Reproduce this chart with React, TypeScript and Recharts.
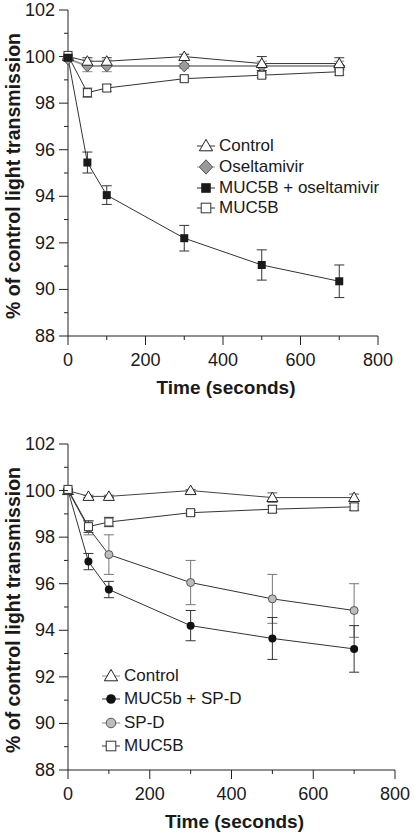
import React from 'react'
import { LineChart, Line, XAxis, YAxis, ErrorBar } from 'recharts'

const FONT = '"Liberation Sans", Arial, Helvetica, sans-serif'

// time points (seconds)
const TIME = [0, 50, 100, 300, 500, 700]

// top panel
const CONTROL_A = [100, 99.8, 99.8, 100, 99.7, 99.7]
const CONTROL_A_ERR = [0.1, 0.15, 0.15, 0.1, 0.3, 0.25]
const OSEL = [99.9, 99.6, 99.6, 99.6, 99.6, 99.6]
const OSEL_ERR = [0.1, 0.25, 0.25, 0.1, 0.2, 0.2]
const MUC_OSEL = [99.95, 95.45, 94.05, 92.2, 91.05, 90.35]
const MUC_OSEL_ERR = [0.1, 0.45, 0.4, 0.55, 0.65, 0.7]
const MUC_A = [100.05, 98.45, 98.65, 99.05, 99.2, 99.35]
const MUC_A_ERR = [0.05, 0.2, 0.15, 0.1, 0.1, 0.15]

// bottom panel
const CONTROL_B = [100, 99.75, 99.75, 100, 99.7, 99.7]
const CONTROL_B_ERR = [0.05, 0.05, 0.05, 0.05, 0.2, 0.15]
const MUC_SPD = [100, 96.95, 95.75, 94.2, 93.65, 93.2]
const MUC_SPD_ERR = [0.05, 0.35, 0.35, 0.65, 0.9, 1.0]
const SPD = [100, 98.4, 97.25, 96.05, 95.35, 94.85]
const SPD_ERR = [0.05, 0.3, 0.85, 0.95, 1.05, 1.15]
const MUC_B = [100.05, 98.45, 98.65, 99.05, 99.2, 99.3]
const MUC_B_ERR = [0.05, 0.25, 0.2, 0.1, 0.15, 0.15]

const X_TICKS = [0, 100, 200, 300, 400, 500, 600, 700, 800]
const Y_TICKS = [88, 89, 90, 91, 92, 93, 94, 95, 96, 97, 98, 99, 100, 101, 102]

const topData = TIME.map((t, i) => ({
  t,
  control: CONTROL_A[i],
  controlErr: CONTROL_A_ERR[i],
  osel: OSEL[i],
  oselErr: OSEL_ERR[i],
  mucOsel: MUC_OSEL[i],
  mucOselErr: MUC_OSEL_ERR[i],
  muc: MUC_A[i],
  mucErr: MUC_A_ERR[i],
}))

const bottomData = TIME.map((t, i) => ({
  t,
  control: CONTROL_B[i],
  controlErr: CONTROL_B_ERR[i],
  mucSpd: MUC_SPD[i],
  mucSpdErr: MUC_SPD_ERR[i],
  spd: SPD[i],
  spdErr: SPD_ERR[i],
  muc: MUC_B[i],
  mucErr: MUC_B_ERR[i],
}))

type Shape = 'triangle' | 'diamond' | 'squareFilled' | 'squareOpen' | 'circleFilled' | 'circleGray'

function Marker({ shape, cx, cy, s = 1 }: { shape: Shape; cx: number; cy: number; s?: number }) {
  switch (shape) {
    case 'triangle':
      return (
        <path
          d={`M${cx},${cy - 5.5 * s} L${cx + 5.5 * s},${cy + 4 * s} L${cx - 5.5 * s},${cy + 4 * s} Z`}
          fill="#fff"
          stroke="#222"
          strokeWidth={1}
        />
      )
    case 'diamond':
      return (
        <path
          d={`M${cx},${cy - 6 * s} L${cx + 5.5 * s},${cy} L${cx},${cy + 6 * s} L${cx - 5.5 * s},${cy} Z`}
          fill="#9a9a9a"
          stroke="#555"
          strokeWidth={1}
        />
      )
    case 'squareFilled':
      return <rect x={cx - 4 * s} y={cy - 4 * s} width={8 * s} height={8 * s} fill="#1a1a1a" />
    case 'squareOpen':
      return (
        <rect x={cx - 4 * s} y={cy - 4 * s} width={8 * s} height={8 * s} fill="#fff" stroke="#333" strokeWidth={1} />
      )
    case 'circleFilled':
      return <circle cx={cx} cy={cy} r={4 * s} fill="#111" />
    case 'circleGray':
      return <circle cx={cx} cy={cy} r={4 * s} fill="#bdbdbd" stroke="#555" strokeWidth={1} />
  }
}

const dotOf = (shape: Shape) => (props: any) => (
  <Marker key={`${shape}-${props.index}`} shape={shape} cx={props.cx} cy={props.cy} />
)

function XTick({ x, y, payload }: any) {
  const major = payload.value % 200 === 0
  return (
    <g>
      <line x1={x} x2={x} y1={y} y2={y + (major ? 9 : 4)} stroke="#222" />
      {major && (
        <text x={x} y={y + 30} textAnchor="middle" fontSize={18} fontFamily={FONT} fill="#1a1a1a">
          {payload.value}
        </text>
      )}
    </g>
  )
}

function YTick({ x, y, payload }: any) {
  const major = payload.value % 2 === 0
  return (
    <g>
      <line x1={x} x2={x - (major ? 9 : 4)} y1={y} y2={y} stroke="#222" />
      {major && (
        <text x={x - 13} y={y + 6} textAnchor="end" fontSize={18} fontFamily={FONT} fill="#1a1a1a">
          {payload.value}
        </text>
      )}
    </g>
  )
}

const yLabel = (props: any) => {
  const vb = props.viewBox ?? { x: 0, y: 0, height: 0 }
  const cx = vb.x + 12.5
  const cy = vb.y + vb.height / 2 + 3
  return (
    <text
      x={cx}
      y={cy}
      transform={`rotate(-90, ${cx}, ${cy})`}
      textAnchor="middle"
      dominantBaseline="central"
      fontSize={19.5}
      fontWeight="bold"
      fontFamily={FONT}
      fill="#1a1a1a"
    >
      % of control light transmission
    </text>
  )
}

const xLabel = (props: any) => {
  const vb = props.viewBox ?? { x: 0, y: 0, width: 0 }
  return (
    <text
      x={vb.x + vb.width / 2 + 3}
      y={vb.y + 58}
      textAnchor="middle"
      fontSize={19}
      fontWeight="bold"
      fontFamily={FONT}
      fill="#1a1a1a"
    >
      Time (seconds)
    </text>
  )
}

type LegendItem = { name: string; shape: Shape; line: string }

const TOP_LEGEND: LegendItem[] = [
  { name: 'Control', shape: 'triangle', line: '#333' },
  { name: 'Oseltamivir', shape: 'diamond', line: '#999' },
  { name: 'MUC5B + oseltamivir', shape: 'squareFilled', line: '#333' },
  { name: 'MUC5B', shape: 'squareOpen', line: '#333' },
]

const BOTTOM_LEGEND: LegendItem[] = [
  { name: 'Control', shape: 'triangle', line: '#888' },
  { name: 'MUC5b + SP-D', shape: 'circleFilled', line: '#333' },
  { name: 'SP-D', shape: 'circleGray', line: '#888' },
  { name: 'MUC5B', shape: 'squareOpen', line: '#333' },
]

function ChartLegend({ items, left, top, rowHeight }: { items: LegendItem[]; left: number; top: number; rowHeight: number }) {
  return (
    <div style={{ position: 'absolute', left, top, fontFamily: FONT, fontSize: 17, color: '#1a1a1a' }}>
      {items.map((it) => (
        <div key={it.name} style={{ display: 'flex', alignItems: 'center', height: rowHeight }}>
          <svg width={20} height={16} style={{ marginRight: 2 }}>
            <line x1={0} x2={18} y1={8} y2={8} stroke={it.line} strokeWidth={1} />
            <Marker shape={it.shape} cx={9} cy={8} s={1.2} />
          </svg>
          <span style={{ whiteSpace: 'nowrap' }}>{it.name}</span>
        </div>
      ))}
    </div>
  )
}

export default function App() {
  return (
    <div style={{ position: 'absolute', left: 0, top: 0, width: 415, height: 835, background: '#fff' }}>
      <div style={{ position: 'absolute', left: 0, top: 0 }}>
        <LineChart width={415} height={400} data={topData} margin={{ top: 10, right: 37, left: 0, bottom: 0 }}>
          <XAxis
            dataKey="t"
            type="number"
            domain={[0, 800]}
            ticks={X_TICKS}
            interval={0}
            height={64}
            tickSize={0}
            tickMargin={0}
            tick={<XTick />}
            axisLine={{ stroke: '#222' }}
            label={xLabel}
          />
          <YAxis
            type="number"
            domain={[88, 102]}
            ticks={Y_TICKS}
            interval={0}
            width={68}
            allowDataOverflow
            tickSize={0}
            tickMargin={0}
            tick={<YTick />}
            axisLine={{ stroke: '#222' }}
            label={yLabel}
          />
          <Line dataKey="osel" stroke="#999" strokeWidth={2} dot={dotOf('diamond')} isAnimationActive={false}>
            <ErrorBar dataKey="oselErr" width={5} stroke="#888" strokeWidth={1} direction="y" isAnimationActive={false} />
          </Line>
          <Line dataKey="control" stroke="#333" strokeWidth={1} dot={dotOf('triangle')} isAnimationActive={false}>
            <ErrorBar dataKey="controlErr" width={5} stroke="#333" strokeWidth={1} direction="y" isAnimationActive={false} />
          </Line>
          <Line dataKey="muc" stroke="#333" strokeWidth={1} dot={dotOf('squareOpen')} isAnimationActive={false}>
            <ErrorBar dataKey="mucErr" width={5} stroke="#777" strokeWidth={1} direction="y" isAnimationActive={false} />
          </Line>
          <Line dataKey="mucOsel" stroke="#333" strokeWidth={1} dot={dotOf('squareFilled')} isAnimationActive={false}>
            <ErrorBar dataKey="mucOselErr" width={5} stroke="#333" strokeWidth={1} direction="y" isAnimationActive={false} />
          </Line>
        </LineChart>
      </div>
      <ChartLegend items={TOP_LEGEND} left={197} top={136} rowHeight={20.7} />

      <div style={{ position: 'absolute', left: 0, top: 434 }}>
        <LineChart width={415} height={400} data={bottomData} margin={{ top: 10, right: 20, left: 0, bottom: 0 }}>
          <XAxis
            dataKey="t"
            type="number"
            domain={[0, 800]}
            ticks={X_TICKS}
            interval={0}
            height={64}
            tickSize={0}
            tickMargin={0}
            tick={<XTick />}
            axisLine={{ stroke: '#222' }}
            label={xLabel}
          />
          <YAxis
            type="number"
            domain={[88, 102]}
            ticks={Y_TICKS}
            interval={0}
            width={68}
            allowDataOverflow
            tickSize={0}
            tickMargin={0}
            tick={<YTick />}
            axisLine={{ stroke: '#222' }}
            label={yLabel}
          />
          <Line dataKey="control" stroke="#444" strokeWidth={1} dot={dotOf('triangle')} isAnimationActive={false}>
            <ErrorBar dataKey="controlErr" width={5} stroke="#555" strokeWidth={1} direction="y" isAnimationActive={false} />
          </Line>
          <Line dataKey="spd" stroke="#333" strokeWidth={1} dot={dotOf('circleGray')} isAnimationActive={false}>
            <ErrorBar dataKey="spdErr" width={5} stroke="#777" strokeWidth={1} direction="y" isAnimationActive={false} />
          </Line>
          <Line dataKey="mucSpd" stroke="#333" strokeWidth={1} dot={dotOf('circleFilled')} isAnimationActive={false}>
            <ErrorBar dataKey="mucSpdErr" width={5} stroke="#333" strokeWidth={1} direction="y" isAnimationActive={false} />
          </Line>
          <Line dataKey="muc" stroke="#333" strokeWidth={1} dot={dotOf('squareOpen')} isAnimationActive={false}>
            <ErrorBar dataKey="mucErr" width={5} stroke="#444" strokeWidth={1} direction="y" isAnimationActive={false} />
          </Line>
        </LineChart>
      </div>
      <ChartLegend items={BOTTOM_LEGEND} left={102} top={664} rowHeight={23.5} />
    </div>
  )
}
